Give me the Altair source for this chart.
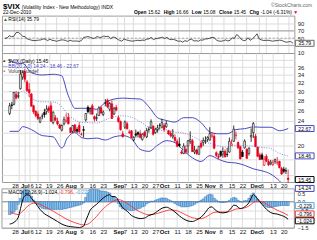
import altair as alt
import pandas as pd

FONT = "Liberation Sans"
GRID = "#dcdcdc"
BORDER = "#9a9a9a"
RED = "#e8001c"
BBC = "#4646bf"
HBLUE = "#4fa3d8"

# ---------------- data ----------------
# trading days 22-Jun-2010 .. 22-Dec-2010, index 0..128
opens = [25.40, 27.10, 27.20, 29.30, 28.90, 30.60, 33.40,
         34.80, 32.20, 30.40, 29.40, 26.90, 25.80, 25.30, 23.80, 24.90, 25.60, 25.80, 26.50, 26.90, 23.70, 24.60, 24.00, 23.30, 22.40, 23.50, 23.90, 24.70,
         22.80, 22.20, 23.30, 22.50, 23.20, 21.70, 22.50, 24.20, 26.60, 25.90, 26.90, 24.80, 24.50, 25.00, 26.50, 25.20, 27.40, 28.10, 26.20, 27.30, 25.30, 26.60,
         24.60, 23.90, 21.80, 22.90, 23.50, 22.10, 22.30, 20.80, 21.80, 22.00, 21.80, 20.90, 22.00, 21.30, 22.50, 22.80, 23.10, 22.00, 22.50, 23.20, 22.90,
         23.20, 23.00, 22.30, 21.90, 21.30, 21.20, 20.60, 20.20, 19.00, 18.80, 19.40, 19.90, 20.60, 20.70, 19.00, 19.30, 18.70, 20.30, 20.40, 20.60, 20.90,
         20.80, 21.30, 21.40, 18.90, 18.40, 19.10, 18.70, 19.10, 18.70, 19.00, 20.00, 20.60, 21.50, 20.40, 19.80, 19.00, 19.60, 19.40, 18.80, 21.30, 22.00,
         21.40, 19.70, 18.60, 18.60, 17.20, 18.40, 17.70, 17.40, 17.30, 17.70, 17.50, 17.70, 16.80, 16.70, 16.50, 15.62]
highs = [27.50, 27.70, 29.90, 30.10, 29.90, 35.20, 35.10,
         35.50, 32.70, 31.90, 29.60, 27.10, 26.00, 25.80, 24.80, 25.40, 26.30, 27.00, 26.90, 27.60, 25.80, 25.10, 24.60, 23.50, 23.40, 24.80, 25.40, 25.50,
         22.90, 23.30, 23.50, 22.90, 23.80, 22.00, 23.10, 25.50, 27.00, 26.60, 27.30, 25.00, 25.40, 26.80, 26.90, 26.00, 28.30, 28.40, 27.70, 28.00, 26.70, 27.10,
         25.00, 24.10, 22.30, 24.10, 23.90, 22.50, 22.40, 21.40, 22.50, 22.20, 22.40, 21.90, 22.30, 22.80, 23.00, 24.30, 23.20, 22.80, 23.30, 23.60, 24.40,
         23.60, 24.00, 22.40, 22.30, 22.60, 21.70, 20.90, 21.20, 19.30, 20.30, 20.00, 20.80, 22.20, 21.00, 19.90, 19.50, 19.90, 20.70, 21.20, 21.40, 21.40,
         22.90, 22.00, 21.90, 19.10, 18.80, 19.20, 19.70, 19.40, 19.60, 21.20, 20.90, 23.20, 22.20, 20.60, 19.90, 19.30, 20.90, 19.50, 19.70, 22.70, 23.80,
         21.80, 19.80, 18.90, 18.90, 18.40, 18.70, 18.00, 17.90, 17.90, 18.10, 18.30, 17.80, 17.00, 17.00, 16.90, 16.66]
lows = [25.10, 26.20, 27.00, 28.20, 28.40, 30.40, 32.70,
        32.10, 29.90, 28.70, 26.70, 25.30, 24.70, 24.20, 23.60, 24.30, 24.60, 25.20, 25.50, 23.90, 23.40, 24.00, 23.20, 22.60, 22.20, 23.20, 23.70, 23.40,
        21.90, 21.90, 22.10, 21.90, 21.80, 21.50, 21.20, 23.90, 25.40, 25.20, 25.20, 23.90, 24.00, 24.90, 25.30, 24.90, 26.80, 26.40, 25.80, 24.40, 25.10, 25.80,
        23.70, 22.30, 21.20, 22.60, 22.50, 21.80, 21.10, 20.60, 21.20, 21.20, 21.00, 20.70, 21.20, 21.10, 22.00, 22.60, 21.50, 21.80, 22.00, 22.50, 22.70,
        22.10, 22.80, 21.60, 21.20, 21.00, 20.40, 19.70, 19.70, 18.70, 18.70, 18.70, 18.80, 20.20, 19.00, 18.70, 18.60, 18.60, 19.50, 19.90, 20.20, 20.50,
        20.70, 21.20, 19.40, 18.30, 18.00, 18.30, 18.20, 18.20, 18.30, 18.90, 19.90, 20.50, 20.90, 19.40, 18.00, 18.30, 19.50, 18.10, 18.50, 20.50, 21.10,
        19.70, 18.30, 17.90, 17.90, 17.10, 17.60, 17.10, 17.20, 17.10, 17.40, 17.20, 16.80, 16.00, 16.20, 16.10, 15.08]
closes = [26.91, 26.96, 29.74, 28.53, 29.00, 34.13, 34.54,
          32.86, 30.12, 29.65, 26.84, 25.71, 24.98, 24.43, 24.56, 24.89, 25.14, 26.25, 25.97, 23.93, 25.64, 24.13, 23.47, 22.73, 23.19, 24.25, 24.13, 23.50,
          22.01, 23.19, 22.21, 22.22, 22.14, 21.74, 22.37, 25.39, 25.72, 26.24, 25.25, 24.33, 24.59, 26.44, 25.49, 25.66, 27.46, 26.70, 27.37, 24.45, 26.35, 26.05,
          23.89, 22.50, 21.31, 23.80, 22.64, 21.99, 21.21, 21.21, 21.56, 21.72, 21.23, 21.72, 21.50, 22.35, 22.55, 23.87, 21.71, 22.54, 22.80, 23.25, 23.70,
          22.50, 23.53, 21.76, 21.49, 21.56, 20.71, 19.85, 19.93, 18.83, 19.88, 19.03, 20.69, 20.87, 19.07, 19.28, 18.78, 19.85, 19.73, 20.71, 20.71, 21.20,
          21.83, 21.57, 19.56, 18.52, 18.26, 18.52, 19.08, 18.34, 18.64, 20.61, 20.20, 22.58, 21.61, 19.63, 18.04, 18.37, 20.63, 18.11, 19.56, 21.53, 23.54,
          19.84, 18.41, 17.96, 18.02, 17.99, 17.74, 17.25, 17.61, 17.55, 17.94, 17.61, 16.90, 16.11, 16.43, 16.49, 15.45]
prev_close0 = 25.06

bb_idx = [0, 4, 6, 10, 15, 20, 24, 25, 26, 27, 28, 30, 33, 36, 40, 44, 48, 52, 56, 60, 64, 68, 72, 76, 80, 84, 88, 92, 96, 100, 104, 108, 112, 116, 120, 124, 128]
bb_upper = [37.8, 37.0, 37.0, 34.5, 33.9, 34.1, 33.7, 32.4, 30.5, 29.0, 27.9, 26.4, 26.4, 26.4, 26.2, 27.6, 28.3, 28.5, 28.4, 28.3, 26.7, 24.6, 24.1, 23.8, 24.6, 24.6, 23.7, 22.1, 21.8, 21.8, 22.5, 22.65, 22.95, 22.9, 22.9, 22.3, 22.67]
bb_mid = [30.0, 29.6, 30.0, 28.5, 27.7, 27.7, 26.66, 26.16, 25.64, 25.17, 24.77, 24.2, 23.76, 23.71, 23.64, 24.22, 24.77, 24.96, 24.69, 23.85, 22.9, 22.3, 22.43, 22.1, 21.9, 21.38, 20.7, 20.29, 19.91, 19.71, 19.98, 19.93, 19.85, 19.67, 19.5, 18.81, 18.46]
bb_lower = [22.2, 22.2, 23.0, 22.5, 21.5, 21.3, 19.6, 19.9, 20.8, 21.3, 21.7, 22.0, 21.2, 21.0, 21.1, 20.8, 21.3, 21.5, 21.0, 19.4, 19.1, 20.0, 20.7, 20.4, 19.2, 18.2, 17.7, 18.5, 18.0, 17.6, 17.5, 17.2, 16.75, 16.5, 16.1, 15.3, 14.24]

rsi_vals = [50, 50, 57, 54, 55, 65, 66,
            61, 55, 54, 48, 46, 44, 43, 43.5, 44.5, 45, 48, 47, 43, 47, 44, 43, 41.5, 43, 45, 45, 43.5,
            41, 44, 42, 42, 42, 41, 43, 52, 53, 54.5, 52, 49.5, 50, 54.5, 52, 52.5, 56, 54, 55.5, 48.5, 53, 52,
            47, 44, 41.5, 47.5, 45, 43.5, 42, 42, 43, 44, 43, 44.5, 44, 47, 48, 52, 46, 48.5, 49.5, 51, 52.5,
            49, 52, 47, 46, 46.5, 44, 41.5, 42, 39, 43, 41, 46, 47, 42, 43, 41.5, 45, 44.5, 48, 48, 50,
            52, 51, 45, 42, 41.5, 42.5, 45, 42.5, 43.5, 51, 49.5, 60, 55, 47, 43, 44, 51, 44, 48.5, 54, 62,
            48, 45, 43.5, 44, 44, 43, 41.5, 43, 43, 44.5, 43.5, 41, 38.5, 40, 40.5, 35.79]

macd_idx = [0, 2, 4, 5, 6, 7, 8, 9, 10, 12, 14, 16, 18, 20, 22, 24, 26, 28, 30, 32, 34, 35, 36, 37, 38, 40, 42, 44, 46, 47, 48, 49, 50,
            52, 54, 56, 58, 60, 62, 64, 66, 68, 70, 72, 74, 76, 78, 80, 82, 84, 86, 88, 90, 92,
            93, 94, 96, 98, 100, 102, 103, 104, 106, 108, 110, 111, 112, 113, 115, 117, 119, 121, 123, 125, 127, 128]
macd_vals = [-1.3, -1.2, -0.9, -0.4, 0.1, 0.35, 0.4, 0.38, 0.2, -0.1, -0.45, -0.7, -0.85, -1.0, -1.15, -1.3, -1.4, -1.45, -1.48, -1.5, -1.42,
             -1.1, -0.8, -0.5, -0.35, -0.15, 0.1, 0.3, 0.4, 0.3, 0.3, 0.25, 0.05,
             -0.35, -0.55, -0.8, -0.92, -0.98, -0.95, -0.8, -0.72, -0.55, -0.38, -0.32, -0.42, -0.6, -0.82, -1.0, -1.12, -1.15, -1.05, -0.9, -0.62, -0.32,
             -0.3, -0.42, -0.6, -0.65, -0.6, -0.35, -0.2, -0.22, -0.4, -0.3, -0.05, 0.2, 0.42, 0.3, 0.0, -0.3, -0.55, -0.68, -0.72, -0.8, -0.92, -1.024]
sig_idx = [0, 4, 6, 8] + list(range(10, 129, 2))
sig_vals = [-0.55, -0.75, -0.55, -0.3,
            -0.12, -0.08, -0.15, -0.28, -0.42, -0.55, -0.7, -0.85, -1.0, -1.12,
            -1.22, -1.3, -1.35, -1.3, -1.1, -0.85, -0.55, -0.3, -0.1, 0.05,
            0.12, 0.05, -0.1, -0.28, -0.45, -0.6, -0.7, -0.76, -0.74, -0.68,
            -0.6, -0.52, -0.48, -0.5, -0.58, -0.7, -0.83, -0.93, -0.98, -0.98,
            -0.9, -0.75, -0.62, -0.6, -0.6, -0.6, -0.53, -0.43, -0.4, -0.36,
            -0.25, -0.05, 0.03, 0.0, -0.13, -0.3, -0.43, -0.55, -0.66, -0.796]
hist_vals = [-0.75, -0.70, -0.60, -0.45, -0.15, 0.20, 0.60,
             0.75, 0.70, 0.60, 0.32, 0.10, -0.02, -0.15, -0.30, -0.38, -0.42, -0.43, -0.43, -0.44, -0.45, -0.45, -0.45, -0.44, -0.45, -0.42, -0.40, -0.36,
             -0.33, -0.30, -0.26, -0.23, -0.20, -0.15, -0.07, 0.25, 0.50, 0.70, 0.75, 0.73, 0.70, 0.68, 0.62, 0.60, 0.60, 0.55, 0.50, 0.30, 0.25, 0.12,
             -0.10, -0.30, -0.42, -0.38, -0.45, -0.50, -0.52, -0.50, -0.47, -0.42, -0.38, -0.30, -0.25, -0.12, -0.04, 0.03, 0.02, 0.08, 0.13, 0.18, 0.22,
             0.20, 0.20, 0.12, 0.06, 0.00, -0.10, -0.18, -0.24, -0.30, -0.30, -0.30, -0.29, -0.26, -0.22, -0.15, -0.07, 0.00, 0.08, 0.16, 0.28, 0.38,
             0.43, 0.40, 0.20, 0.10, 0.00, -0.04, -0.05, -0.03, 0.00, 0.08, 0.18, 0.25, 0.21, 0.08, 0.00, -0.02, 0.06, 0.06, 0.20, 0.37, 0.50,
             0.33, 0.15, 0.00, -0.10, -0.22, -0.30, -0.34, -0.34, -0.32, -0.28, -0.26, -0.24, -0.22, -0.22, -0.22, -0.229]

tick_idx = [4, 7, 9, 13, 18, 23, 28, 33, 38, 43, 50, 53, 57, 62, 67, 71, 77, 82, 87, 92, 97, 102, 107, 113, 116, 121, 126]
tick_lbl = ['28', 'Jul', '6', '12', '19', '26', 'Aug', '9', '16', '23', 'Sep', '7', '13', '20', '27', 'Oct', '11', '18', '25', 'Nov', '8', '15', '22', 'Dec', '6', '13', '20']
month_idx = [7, 28, 50, 71, 92, 113]

rsi_ticks = [10, 30, 50, 70, 90]
rsi_hidden = [30]
rsi_levels = [30, 70]
price_ticks = [16, 18, 20, 22, 24, 26, 28, 30, 32, 34, 36, 38]
price_hidden = [16, 18, 22, 38]
macd_ticks = [0.5, 0.0, -0.5, -1.0, -1.5]

# ---------------- layout ----------------
W = 297
H_R = 38
H_P = 131
GAP = 7
H_M = 40

n = len(closes)
days = list(range(n))
prev = [prev_close0] + closes[:-1]
cols = [RED if c < p else "#000000" for c, p in zip(closes, prev)]
fills = ["#ffffff" if c > o else k for o, c, k in zip(opens, closes, cols)]
cdf = pd.DataFrame({"i": days, "o": opens, "h": highs, "l": lows, "c": closes, "col": cols, "fill": fills})
one = pd.DataFrame({"a": [0]})

xscale = alt.Scale(domain=[-1.25, 128.6], nice=False, zero=False)
lbl_expr = "[" + ",".join("'%s'" % t for t in tick_lbl) + "][indexof([" + ",".join(map(str, tick_idx)) + "], datum.value)]"
month_test = "indexof([" + ",".join(map(str, month_idx)) + "], datum.value) >= 0"


def xaxis(labels, grid=True):
    kw = dict(values=tick_idx, grid=grid, gridColor=GRID, gridWidth=1, ticks=False, domain=False, title=None)
    if labels:
        kw.update(labels=True, labelExpr=lbl_expr, labelFontSize=6, labelFont=FONT, labelColor="#111",
                  labelPadding=0.5, labelOverlap=False, labelFlush=False, labelBound=False,
                  labelFontWeight={"condition": {"test": month_test, "value": "bold"}, "value": "normal"},
                  labelAlign={"condition": {"test": "datum.value == %d" % tick_idx[0], "value": "right"}, "value": "center"},
                  labelOffset={"condition": {"test": "datum.value == %d" % tick_idx[2], "value": 2.5}, "value": 0})
    else:
        kw.update(labels=False)
    return alt.Axis(**kw)


X_r = alt.X("i:Q", scale=xscale, axis=xaxis(False))
X_p = alt.X("i:Q", scale=xscale, axis=xaxis(True))
X_m = alt.X("i:Q", scale=xscale, axis=xaxis(True, grid=False))

yax = dict(orient="right", grid=True, gridColor=GRID, gridWidth=1, ticks=False, domain=False,
           labelFontSize=6, labelPadding=3, title=None, labelFont=FONT, labelColor="#222", labelOverlap=False)
rsi_scale = alt.Scale(domain=[9, 112], nice=False, zero=False)
rsi_axis = alt.Axis(values=rsi_ticks,
                    labelExpr="indexof([" + ",".join(map(str, rsi_hidden)) + "], datum.value) >= 0 ? '' : datum.label", **yax)
p_scale = alt.Scale(type="log", domain=[15.17, 40.0], nice=False)
p_axis = alt.Axis(values=price_ticks,
                  labelExpr="indexof([" + ",".join(map(str, price_hidden)) + "], datum.value) >= 0 ? '' : format(datum.value, '.0f')", **yax)
m_scale = alt.Scale(domain=[-1.543, 0.743], range=[GAP + H_M, GAP], nice=False, zero=False)
m_yax = dict(yax, labelFontSize=5.5)
m_axis = alt.Axis(values=macd_ticks, format=".1f", labelExpr="datum.value == -1 ? '' : datum.label", **m_yax)


def Yr(f):
    return alt.Y(f + ":Q", scale=rsi_scale, axis=rsi_axis)


def Yp(f):
    return alt.Y(f + ":Q", scale=p_scale, axis=p_axis)


def Ym(f):
    return alt.Y(f + ":Q", scale=m_scale, axis=m_axis)


def txt(s, x, y, size=5, color="#000", weight="normal", align="left", baseline="middle"):
    return alt.Chart(one).mark_text(text=s, fontSize=size, color=color, fontWeight=weight, align=align,
                                    baseline=baseline, font=FONT).encode(x=alt.value(x), y=alt.value(y))


BOX = "M-1,-0.32H1V0.32H-1Z"


def vbox(Y, val, label, color, dy=0):
    d = pd.DataFrame({"v": [val], "t": [label]})
    pt = alt.Chart(d).mark_point(shape=BOX, size=361, filled=True, fill="white", stroke=color, strokeWidth=1,
                                 opacity=1, yOffset=dy).encode(x=alt.value(W + 10.5), y=Y("v"))
    tx = alt.Chart(d).mark_text(fontSize=5.2, font=FONT, color="#000", yOffset=dy).encode(
        x=alt.value(W + 10.5), y=Y("v"), text="t:N")
    return [pt, tx]


# ---------------- RSI panel ----------------
rsi_df = pd.DataFrame({"i": days, "rsi": rsi_vals})
rsi_lv = alt.Chart(pd.DataFrame({"lvl": rsi_levels})).mark_rule(color="#8c8c8c", strokeWidth=0.8).encode(y=Yr("lvl"))
rsi_50 = alt.Chart(pd.DataFrame({"lvl": [50]})).mark_rule(color="#8c8c8c", strokeWidth=0.8, strokeDash=[2, 2]).encode(y=Yr("lvl"))
rsi_line = alt.Chart(rsi_df).mark_line(color="#222", strokeWidth=0.8).encode(x=X_r, y=Yr("rsi"))

header = [
    txt("$VIX", 1, -13, size=8, weight="bold", baseline="top"),
    txt("(Volatility Index - New Methodology) INDX", 20, -11, size=5, baseline="top"),
    txt("22-Dec-2010", 1, -5.5, size=5, baseline="top"),
    txt("\u00a9StockCharts.com", W + 18, -13, size=5, color="#666", align="right", baseline="top"),
]
ohlc = [("Open", 134, "bold"), ("15.62", 148.3, "normal"), ("High", 164.3, "bold"), ("16.66", 176.9, "normal"),
        ("Low", 192.9, "bold"), ("15.08", 204.4, "normal"), ("Close", 220.4, "bold"), ("15.45", 235.5, "normal"),
        ("Chg", 251.5, "bold"), ("-1.04 (-6.31%)", 262.7, "normal")]
for s, x, w in ohlc:
    header.append(txt(s, x, -5.5, size=5, weight=w, baseline="top"))
header.append(txt("\u25bc", 296, -5.5, size=5, color=RED, baseline="top"))

rsi_lab = [txt("\u25b2", 1, 3, size=5, color="#2f6f2f"), txt("RSI(14) 35.79", 6.5, 3, size=5)]
rsi_chart = alt.layer(rsi_lv, rsi_50, rsi_line, *rsi_lab, *header,
                      *vbox(Yr, 35.79, "35.79", "#666")).properties(width=W, height=H_R)

# ---------------- price panel ----------------
bb_df = pd.DataFrame({"i": bb_idx, "up": bb_upper, "mid": bb_mid, "lo": bb_lower})
bb_up = alt.Chart(bb_df).mark_line(color=BBC, strokeWidth=1, interpolate="monotone", clip=True).encode(x=X_p, y=Yp("up"))
bb_lo = alt.Chart(bb_df).mark_line(color=BBC, strokeWidth=1, interpolate="monotone", clip=True).encode(x=X_p, y=Yp("lo"))
bb_md = alt.Chart(bb_df).mark_line(color="#6b6bd6", strokeWidth=0.8, strokeDash=[1, 1.5], interpolate="monotone",
                                   clip=True).encode(x=X_p, y=Yp("mid"))
wick = alt.Chart(cdf).mark_rule(strokeWidth=0.8).encode(x=X_p, y=Yp("l"), y2="h", color=alt.Color("col:N", scale=None))
body = alt.Chart(cdf).mark_bar(size=1.7, strokeWidth=0.6).encode(
    x=X_p, y=Yp("o"), y2="c", fill=alt.Fill("fill:N", scale=None), stroke=alt.Stroke("col:N", scale=None))

p_lab = [
    txt("\u25aa", 1, 8.5, size=6), txt("$VIX (Daily) 15.45", 6.5, 8.5, size=5),
    txt("\u2014", 0.5, 13.5, size=5, color=BBC), txt("BB(20,2.0) 14.24 - 18.46 - 22.67", 6.5, 13.5, size=5, color=BBC),
    txt("\u25aa", 1, 18.5, size=6, color="#888"), txt("Volume undef", 6.5, 18.5, size=5, color="#333"),
]
p_box = (vbox(Yp, 22.67, "22.67", BBC) + vbox(Yp, 18.46, "18.46", BBC) + vbox(Yp, 15.45, "15.45", "#000")
         + vbox(Yp, 14.24, "14.24", BBC, dy=-2))
price_chart = alt.layer(bb_md, bb_up, bb_lo, wick, body, *p_lab, *p_box).properties(width=W, height=H_P)

# ---------------- MACD panel ----------------
tick_df = pd.DataFrame({"i": tick_idx})
m_grid = alt.Chart(tick_df).mark_rule(color=GRID, strokeWidth=1).encode(x=X_m, y=alt.value(GAP), y2=alt.value(GAP + H_M))
m_zero = alt.Chart(pd.DataFrame({"z": [0.0]})).mark_rule(color="#7a7a7a", strokeWidth=0.8).encode(y=Ym("z"))
hist_df = pd.DataFrame({"i": days, "hist": hist_vals})
m_hist = alt.Chart(hist_df).mark_bar(size=2.3, fill="#8cc4ec", stroke="#2d6fb5", strokeWidth=0.5).encode(
    x=X_m, y=Ym("hist"), y2=alt.datum(0))
sig_df = pd.DataFrame({"i": sig_idx, "s": sig_vals})
macd_df = pd.DataFrame({"i": macd_idx, "m": macd_vals})
m_sig = alt.Chart(sig_df).mark_line(color="#ff3030", strokeWidth=0.9, interpolate="monotone").encode(x=X_m, y=Ym("s"))
m_line = alt.Chart(macd_df).mark_line(color="#000", strokeWidth=1, interpolate="monotone").encode(x=X_m, y=Ym("m"))
m_frame = alt.Chart(one).mark_rect(filled=False, stroke=BORDER, strokeWidth=1).encode(
    x=alt.value(0), x2=alt.value(W), y=alt.value(GAP), y2=alt.value(GAP + H_M))
m_lab = [
    txt("\u2014", 0.5, GAP + 3, size=5), txt("MACD(12,26,9)", 6.5, GAP + 3, size=5),
    txt("-1.024,", 42, GAP + 3, size=5), txt("-0.796,", 58, GAP + 3, size=5, color="#ff3030"),
    txt("-0.229", 75, GAP + 3, size=5, color=HBLUE),
]
m_box = (vbox(Ym, -0.229, "-0.229", HBLUE) + vbox(Ym, -0.796, "-0.796", "#ff3030", dy=-1.5)
         + vbox(Ym, -1.024, "-1.024", "#000", dy=1.5))
macd_chart = alt.layer(m_grid, m_zero, m_hist, m_sig, m_line, m_frame, *m_lab, *m_box).properties(
    width=W, height=GAP + H_M, view=alt.ViewBackground(strokeOpacity=0))

chart = alt.vconcat(rsi_chart, price_chart, macd_chart, spacing=0, bounds="flush").properties(
    padding={"left": 1, "top": 0, "right": 0, "bottom": 0}, background="white"
).configure_view(stroke=BORDER, strokeWidth=1).configure_axis(labelFont=FONT)

chart.save("out.html", embed_options={"renderer": "svg", "actions": False})
